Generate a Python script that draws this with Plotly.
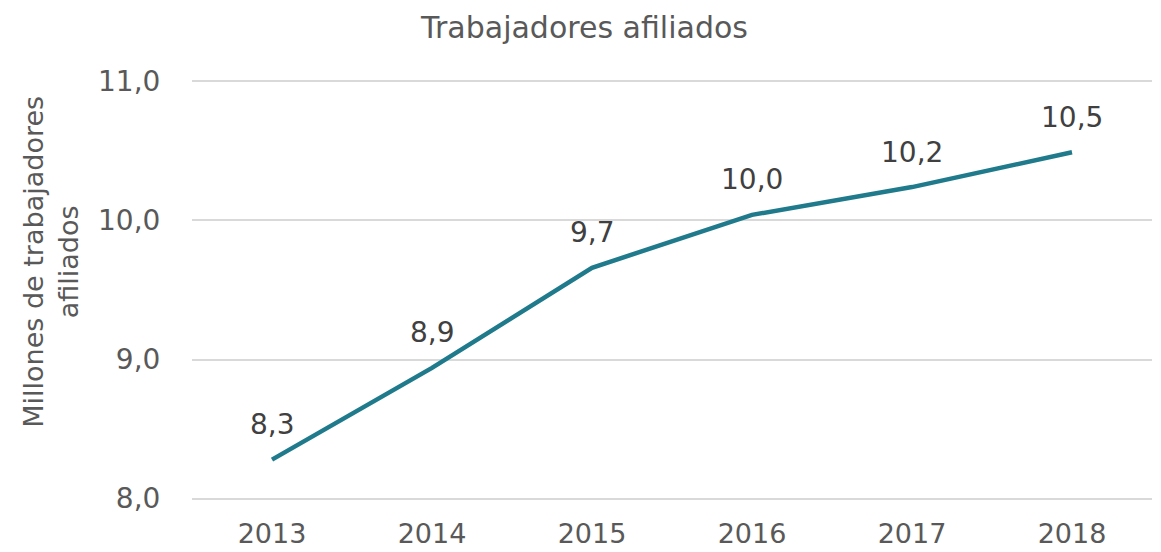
import plotly.graph_objects as go

years = [2013, 2014, 2015, 2016, 2017, 2018]
year_labels = ["2013", "2014", "2015", "2016", "2017", "2018"]
afiliados = [8.28, 8.94, 9.66, 10.04, 10.24, 10.49]
y_ticks = [8.0, 9.0, 10.0, 11.0]
y_tick_labels = ["8,0", "9,0", "10,0", "11,0"]

FONT = "DejaVu Sans"
LINE_COLOR = "#1f7a8c"

fig = go.Figure()
fig.add_trace(go.Scatter(
    x=years, y=afiliados, mode="lines",
    line=dict(color=LINE_COLOR, width=4.5),
    hoverinfo="x+y", showlegend=False,
))

for x, y in zip(years, afiliados):
    fig.add_annotation(
        x=x, y=y, text=f"{y:.1f}".replace(".", ","),
        showarrow=False, yshift=35, yanchor="middle",
        font=dict(family=FONT, size=28, color="#404040"),
    )

# y-axis title (placed as rotated annotation, slightly above plot centre like the reference)
fig.add_annotation(
    xref="paper", yref="paper", x=-0.147, y=0.567,
    xanchor="center", yanchor="middle", textangle=-90,
    text="Millones de trabajadores<br>afiliados", showarrow=False,
    font=dict(family=FONT, size=27, color="#595959"),
)

# page body has an 8px margin, so the figure is sized/offset to compensate
fig.update_layout(
    width=1153, height=544,
    margin=dict(l=184, r=9, t=72, b=52, autoexpand=False),
    paper_bgcolor="white", plot_bgcolor="white",
    title=dict(text="Trabajadores afiliados", x=0.5, xanchor="center",
               y=0.965, yanchor="middle",
               font=dict(family=FONT, size=30, color="#595959")),
    font=dict(family=FONT, color="#595959"),
)
fig.update_xaxes(
    range=[2012.5, 2018.5], tickvals=years, ticktext=year_labels,
    showgrid=False, showline=False, zeroline=False, automargin=False,
    tickfont=dict(family=FONT, size=27, color="#595959"),
    ticks="outside", ticklen=10, tickcolor="rgba(0,0,0,0)",
)
fig.update_yaxes(
    range=[7.99, 11.01], tickvals=y_ticks, ticktext=y_tick_labels,
    showgrid=True, gridcolor="#d9d9d9", gridwidth=2,
    zeroline=False, showline=False, automargin=False,
    ticks="outside", ticklen=25, tickcolor="rgba(0,0,0,0)",
    tickfont=dict(family=FONT, size=28, color="#595959"),
)

fig.write_html("out.html")
